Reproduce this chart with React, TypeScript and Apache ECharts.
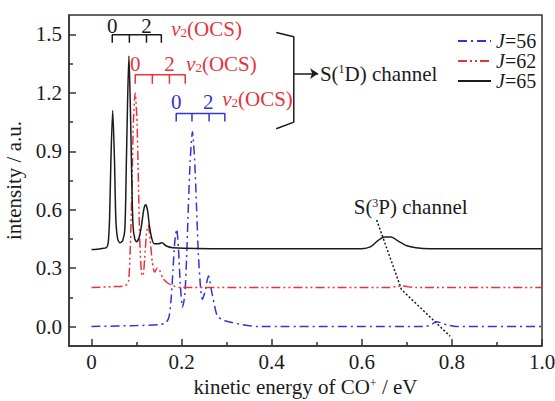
import { useEffect, useRef } from "react";
import * as echarts from "echarts";

const FONT = '"Liberation Serif", "Times New Roman", serif';
const C_BLACK = "#1b1b1b";
const C_RED = "#e8333a";
const C_BLUE = "#3434d8";
const C_AXIS = "#333333";

// Axis ranges and ticks
const xMin = -0.05;
const xMax = 1.0;
const yMin = -0.1;
const yMax = 1.6;
const xMajorTicks = [0, 0.2, 0.4, 0.6, 0.8, 1.0];
const xMinorTicks = [0.1, 0.3, 0.5, 0.7, 0.9];
const yMajorTicks = [0, 0.3, 0.6, 0.9, 1.2, 1.5];
const yMinorTicks = [0.15, 0.45, 0.75, 1.05, 1.35];

const seriesNames = ["J=56", "J=62", "J=65"];

// J=56 (blue, dash-dot)
const j56: number[][] = [
  [0.0, 0.0], [0.1, 0.005], [0.15, 0.01], [0.165, 0.02], [0.172, 0.05], [0.177, 0.15],
  [0.181, 0.3], [0.185, 0.44], [0.189, 0.5], [0.193, 0.4], [0.197, 0.22], [0.202, 0.1],
  [0.207, 0.16], [0.211, 0.35], [0.215, 0.62], [0.219, 0.85], [0.224, 1.0], [0.229, 0.85],
  [0.233, 0.62], [0.237, 0.38], [0.242, 0.2], [0.246, 0.14], [0.252, 0.18], [0.257, 0.24],
  [0.26, 0.26], [0.265, 0.2], [0.272, 0.12], [0.279, 0.055], [0.29, 0.035], [0.3, 0.027],
  [0.334, 0.01], [0.37, 0.0], [0.74, 0.0], [0.755, 0.01], [0.765, 0.025], [0.775, 0.02],
  [0.79, 0.008], [0.81, 0.0], [1.0, 0.0],
];

// J=62 (red, dash-dot-dot)
const j62: number[][] = [
  [0.0, 0.2], [0.05, 0.205], [0.075, 0.21], [0.082, 0.23], [0.086, 0.4], [0.09, 0.75],
  [0.093, 1.05], [0.097, 1.2], [0.101, 1.05], [0.104, 0.75], [0.107, 0.45], [0.111, 0.27],
  [0.114, 0.26], [0.118, 0.35], [0.122, 0.48], [0.126, 0.52], [0.13, 0.45], [0.135, 0.33],
  [0.14, 0.28], [0.146, 0.3], [0.151, 0.29], [0.158, 0.25], [0.168, 0.225], [0.18, 0.21],
  [0.2, 0.2], [0.66, 0.2], [0.675, 0.205], [0.69, 0.21], [0.7, 0.205], [0.72, 0.2], [1.0, 0.2],
];

// J=65 (black, solid)
const j65: number[][] = [
  [0.0, 0.395], [0.02, 0.4], [0.033, 0.405], [0.037, 0.43], [0.04, 0.55], [0.043, 0.85],
  [0.047, 1.11], [0.051, 0.85], [0.054, 0.55], [0.058, 0.45], [0.063, 0.43], [0.069, 0.44],
  [0.074, 0.5], [0.077, 0.8], [0.08, 1.15], [0.083, 1.39], [0.086, 1.15], [0.089, 0.8],
  [0.092, 0.52], [0.096, 0.45], [0.1, 0.435], [0.106, 0.46], [0.111, 0.52], [0.116, 0.6],
  [0.12, 0.625], [0.124, 0.6], [0.129, 0.51], [0.134, 0.45], [0.139, 0.425], [0.148, 0.425],
  [0.157, 0.43], [0.165, 0.415], [0.18, 0.405], [0.3, 0.4], [0.6, 0.4], [0.62, 0.41],
  [0.635, 0.44], [0.65, 0.46], [0.665, 0.46], [0.68, 0.44], [0.7, 0.415], [0.72, 0.405],
  [0.75, 0.4], [1.0, 0.4],
];

// v2(OCS) progression combs: tick x positions, top and bottom of comb
const combBlackX = [0.046, 0.084, 0.122, 0.155];
const combBlackY = [1.498, 1.457];
const combRedX = [0.097, 0.135, 0.173, 0.208];
const combRedY = [1.293, 1.247];
const combBlueX = [0.188, 0.223, 0.261, 0.296];
const combBlueY = [1.094, 1.053];

// bracket and pointer annotations (data coordinates)
const bracketPts = [[0.41, 1.51], [0.449, 1.488], [0.449, 1.05], [0.41, 1.016]];
const arrowPts = [[0.449, 1.299], [0.503, 1.299]];
const pointerPts = [[0.633, 0.547], [0.688, 0.19], [0.796, -0.05]];

const combLabels = [
  { text: "0", x: 0.046, y: 1.544, color: C_BLACK },
  { text: "2", x: 0.122, y: 1.544, color: C_BLACK },
  { text: "0", x: 0.097, y: 1.349, color: C_RED },
  { text: "2", x: 0.173, y: 1.349, color: C_RED },
  { text: "0", x: 0.188, y: 1.152, color: C_BLUE },
  { text: "2", x: 0.259, y: 1.152, color: C_BLUE },
];
const modeLabels = [
  { x: 0.177, y: 1.529 },
  { x: 0.21, y: 1.35 },
  { x: 0.29, y: 1.171 },
];
const channelLabels = [
  { text: "S({sup|1}D) channel", x: 0.507, y: 1.299 },
  { text: "S({sup|3}P) channel", x: 0.582, y: 0.613 },
];

function combPath(xs: number[], yy: number[]): number[][] {
  const [top, bottom] = yy;
  const pts: number[][] = [];
  xs.forEach((x, i) => {
    if (i === 0) {
      pts.push([x, bottom], [x, top]);
    } else {
      pts.push([x, top], [x, bottom]);
      if (i < xs.length - 1) pts.push([x, top]);
    }
  });
  return pts;
}

const supRich = { fontFamily: FONT, fontSize: 12, lineHeight: 12, verticalAlign: "top" };
const subRich = { fontFamily: FONT, fontSize: 13, lineHeight: 13, verticalAlign: "bottom" };

function annoLine(data: number[][], color: string, type: any = "solid") {
  return {
    type: "line",
    data,
    symbol: "none",
    silent: true,
    lineStyle: { color, width: 1.5, type },
    z: 3,
  };
}

export default function App() {
  const ref = useRef<HTMLDivElement>(null);
  useEffect(() => {
    document.body.style.margin = "0";
    const chart = echarts.init(ref.current!, null, { renderer: "svg" });
    const axisLineStyle = { color: C_AXIS, width: 1.5 };
    const labelStyle = { fontFamily: FONT, fontSize: 21, color: C_BLACK };
    const option: any = {
      animation: false,
      grid: {
        left: 69, right: 13, top: 15, bottom: 55,
        outerBoundsMode: "none",
        containLabel: false,
        show: true, borderColor: C_AXIS, borderWidth: 1.5, backgroundColor: "transparent",
      },
      legend: {
        data: seriesNames,
        orient: "vertical",
        left: 452,
        top: 26,
        itemWidth: 33,
        itemHeight: 12,
        itemGap: 0,
        itemStyle: { color: "transparent", borderWidth: 0, opacity: 0 },
        formatter: (n: string) => `{i|J}${n.slice(1)}`,
        textStyle: {
          fontFamily: FONT, fontSize: 20, color: C_BLACK,
          lineHeight: 18.5,
          rich: { i: { fontFamily: FONT, fontSize: 20, fontStyle: "italic", lineHeight: 18.5, color: C_BLACK } },
        },
      },
      xAxis: [
        {
          type: "value", min: xMin, max: xMax, position: "bottom",
          axisLine: { onZero: false, lineStyle: axisLineStyle },
          axisTick: { inside: true, length: 7, customValues: xMajorTicks, lineStyle: axisLineStyle },
          axisLabel: {
            ...labelStyle, margin: 5, customValues: xMajorTicks,
            formatter: (v: number) => (v === 0 ? "0" : v.toFixed(1)),
          },
          splitLine: { show: false },
          name: "kinetic energy of CO{sup|+} / eV",
          nameLocation: "middle",
          nameGap: 28,
          nameTextStyle: { ...labelStyle, rich: { sup: supRich } },
        },
        {
          type: "value", min: xMin, max: xMax, position: "bottom",
          axisLine: { show: false, onZero: false },
          axisTick: { inside: true, length: 4, customValues: xMinorTicks, lineStyle: axisLineStyle },
          axisLabel: { show: false },
          splitLine: { show: false },
        },
      ],
      yAxis: [
        {
          type: "value", min: yMin, max: yMax, position: "left",
          axisLine: { show: true, onZero: false, lineStyle: axisLineStyle },
          axisTick: { show: true, inside: true, length: 7, customValues: yMajorTicks, lineStyle: axisLineStyle },
          axisLabel: { ...labelStyle, margin: 7, customValues: yMajorTicks, formatter: (v: number) => v.toFixed(1) },
          splitLine: { show: false },
          name: "intensity / a.u.",
          nameLocation: "middle",
          nameGap: 38,
          nameTextStyle: labelStyle,
        },
        {
          type: "value", min: yMin, max: yMax, position: "left",
          axisLine: { show: false, onZero: false },
          axisTick: { show: true, inside: true, length: 4, customValues: yMinorTicks, lineStyle: axisLineStyle },
          axisLabel: { show: false },
          splitLine: { show: false },
        },
      ],
      series: [
        {
          name: "J=56", type: "line", data: j56, symbol: "none", smooth: 0.25,
          lineStyle: { color: C_BLUE, width: 1.5, type: [9, 4, 2, 4] },
          itemStyle: { color: C_BLUE }, z: 4,
        },
        {
          name: "J=62", type: "line", data: j62, symbol: "none", smooth: 0.25,
          lineStyle: { color: C_RED, width: 1.5, type: [9, 3, 2, 3, 2, 3] },
          itemStyle: { color: C_RED }, z: 4,
        },
        {
          name: "J=65", type: "line", data: j65, symbol: "none", smooth: 0.25,
          lineStyle: { color: C_BLACK, width: 1.5, type: "solid" },
          itemStyle: { color: C_BLACK }, z: 4,
        },
        annoLine(combPath(combBlackX, combBlackY), C_BLACK),
        annoLine(combPath(combRedX, combRedY), C_RED),
        annoLine(combPath(combBlueX, combBlueY), C_BLUE),
        {
          ...annoLine(bracketPts, C_BLACK),
          markLine: {
            silent: true,
            symbol: ["none", "arrow"],
            symbolSize: 8,
            label: { show: false },
            lineStyle: { color: C_BLACK, width: 1.5, type: "solid" },
            data: [[{ coord: arrowPts[0] }, { coord: arrowPts[1] }]],
          },
        },
        annoLine(pointerPts, C_BLACK, [2, 2]),
      ],
    };
    chart.setOption(option);

    const toPx = (x: number, y: number) => chart.convertToPixel({ seriesIndex: 0 }, [x, y]) as number[];
    const elements: any[] = [];
    combLabels.forEach((l) => {
      const p = toPx(l.x, l.y);
      elements.push({
        type: "text", x: p[0], y: p[1], silent: true,
        style: { text: l.text, fill: l.color, fontFamily: FONT, fontSize: 21, align: "center", verticalAlign: "middle" },
      });
    });
    modeLabels.forEach((l) => {
      const p = toPx(l.x, l.y);
      elements.push({
        type: "text", x: p[0], y: p[1], silent: true,
        style: {
          text: "{i|v}{sub|2}(OCS)", fill: C_RED, fontFamily: FONT, fontSize: 21,
          align: "left", verticalAlign: "middle",
          rich: {
            i: { fontFamily: FONT, fontSize: 21, fontStyle: "italic", lineHeight: 21 },
            sub: subRich,
          },
        },
      });
    });
    channelLabels.forEach((l) => {
      const p = toPx(l.x, l.y);
      elements.push({
        type: "text", x: p[0], y: p[1], silent: true,
        style: {
          text: l.text, fill: C_BLACK, fontFamily: FONT, fontSize: 21,
          align: "left", verticalAlign: "middle", lineHeight: 21,
          rich: { sup: supRich },
        },
      });
    });
    chart.setOption({ graphic: { elements } });

    return () => chart.dispose();
  }, []);
  return <div ref={ref} style={{ width: 555, height: 401 }} />;
}
